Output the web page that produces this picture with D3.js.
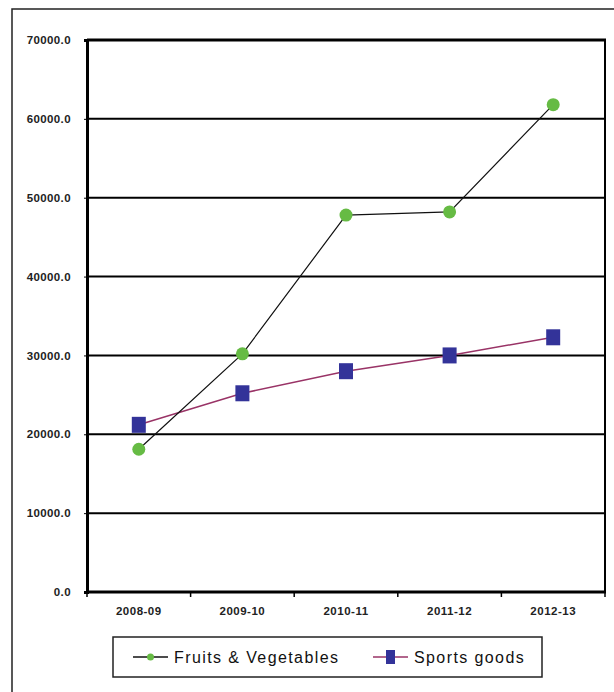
<!DOCTYPE html>
<html>
<head>
<meta charset="utf-8">
<script src="https://cdn.jsdelivr.net/npm/d3@7"></script>
<style>
body{margin:0;background:#fff;}
svg{display:block;}
</style>
</head>
<body>
<svg id="chart" width="614" height="692"></svg>
<script>
years=["2008-09","2009-10","2010-11","2011-12","2012-13"];
fruits=[18100,30200,47800,48200,61800];
sports=[21200,25200,28000,30000,32300];
yTicks=[0,10000,20000,30000,40000,50000,60000,70000];

svg=d3.select("#chart");
plotL=87; plotT=40; plotR=605; plotB=592;

// outer frame
svg.append("path")
   .attr("d","M12,700 L12,9 L620,9")
   .attr("fill","none")
   .attr("stroke","#222")
   .attr("stroke-width",1.5);

x=d3.scaleBand().domain(years).range([plotL,plotR]);
y=d3.scaleLinear().domain([0,70000]).range([plotB,plotT]);

// gridlines
svg.append("g").selectAll("line").data(yTicks.slice(1,-1)).join("line")
   .attr("x1",plotL).attr("x2",plotR)
   .attr("y1",d=>y(d)).attr("y2",d=>y(d))
   .attr("stroke","#000").attr("stroke-width",2);

axisFont="Liberation Sans Narrow, Arial Narrow, Liberation Sans, sans-serif";

// y axis
yAxis=svg.append("g").attr("transform","translate("+plotL+",0)")
   .call(d3.axisLeft(y).tickValues(yTicks).tickSize(3).tickPadding(13)
         .tickFormat(d=>d3.format(".1f")(d)));
yAxis.select(".domain").attr("stroke-width",3);
yAxis.selectAll("text")
   .attr("font-family",axisFont).attr("font-weight","bold")
   .attr("font-size","11.5px").attr("letter-spacing","0.4px").attr("fill","#222");

// x axis
xAxis=svg.append("g").attr("transform","translate(0,"+plotB+")")
   .call(d3.axisBottom(x).tickSize(0).tickPadding(15));
xAxis.select(".domain").remove();
xAxis.selectAll("text")
   .attr("font-family",axisFont).attr("font-weight","bold")
   .attr("font-size","11.5px").attr("letter-spacing","0.5px").attr("fill","#222");
bounds=years.map(d=>x(d)).concat([plotR]);
svg.append("g").selectAll("line").data(bounds).join("line")
   .attr("x1",d=>d).attr("x2",d=>d)
   .attr("y1",plotB).attr("y2",plotB+5)
   .attr("stroke","#000").attr("stroke-width",1.5);

// plot frame
svg.append("line").attr("x1",plotL).attr("x2",plotR+1).attr("y1",plotT).attr("y2",plotT)
   .attr("stroke","#000").attr("stroke-width",3);
svg.append("line").attr("x1",plotL).attr("x2",plotR+1).attr("y1",plotB).attr("y2",plotB)
   .attr("stroke","#000").attr("stroke-width",3);
svg.append("line").attr("x1",plotR).attr("x2",plotR).attr("y1",plotT).attr("y2",plotB)
   .attr("stroke","#000").attr("stroke-width",2);

cx=d=>x(d)+x.bandwidth()/2;
line=d3.line().x(d=>cx(d[0])).y(d=>y(d[1]));

// sports goods
svg.append("path").datum(years.map((d,i)=>[d,sports[i]]))
   .attr("d",line).attr("fill","none")
   .attr("stroke","#993366").attr("stroke-width",1.5);
svg.append("g").selectAll("rect").data(years).join("rect")
   .attr("x",(d)=>cx(d)-7).attr("y",(d,i)=>y(sports[i])-8)
   .attr("width",14).attr("height",16)
   .attr("fill","#333399");

// fruits & vegetables
svg.append("path").datum(years.map((d,i)=>[d,fruits[i]]))
   .attr("d",line).attr("fill","none")
   .attr("stroke","#111").attr("stroke-width",1.2);
svg.append("g").selectAll("circle").data(years).join("circle")
   .attr("cx",d=>cx(d)).attr("cy",(d,i)=>y(fruits[i]))
   .attr("r",6.5).attr("fill","#66bb44");

// legend
legend=svg.append("g");
legend.append("rect").attr("x",113).attr("y",637).attr("width",429).attr("height",40)
   .attr("fill","#fff").attr("stroke","#222").attr("stroke-width",1.5);
items=[{name:"Fruits & Vegetables",x:133,type:"circle",stroke:"#111",fill:"#66bb44"},
       {name:"Sports goods",x:373,type:"rect",stroke:"#993366",fill:"#333399"}];
items.forEach(function(it){
     g=legend.append("g");
     g.append("line").attr("x1",it.x).attr("x2",it.x+35).attr("y1",657).attr("y2",657)
        .attr("stroke",it.stroke).attr("stroke-width",1.5);
     if(it.type=="circle"){
          g.append("circle").attr("cx",it.x+17.5).attr("cy",657).attr("r",3.5).attr("fill",it.fill);
     } else {
          g.append("rect").attr("x",it.x+13).attr("y",650).attr("width",9).attr("height",14).attr("fill",it.fill);
     }
     g.append("text").text(it.name)
        .attr("x",it.x+41).attr("y",663)
        .attr("font-family","Liberation Sans, Arial, sans-serif")
        .attr("font-size","16px").attr("letter-spacing","1.4px").attr("fill","#111");
});
</script>
</body>
</html>
